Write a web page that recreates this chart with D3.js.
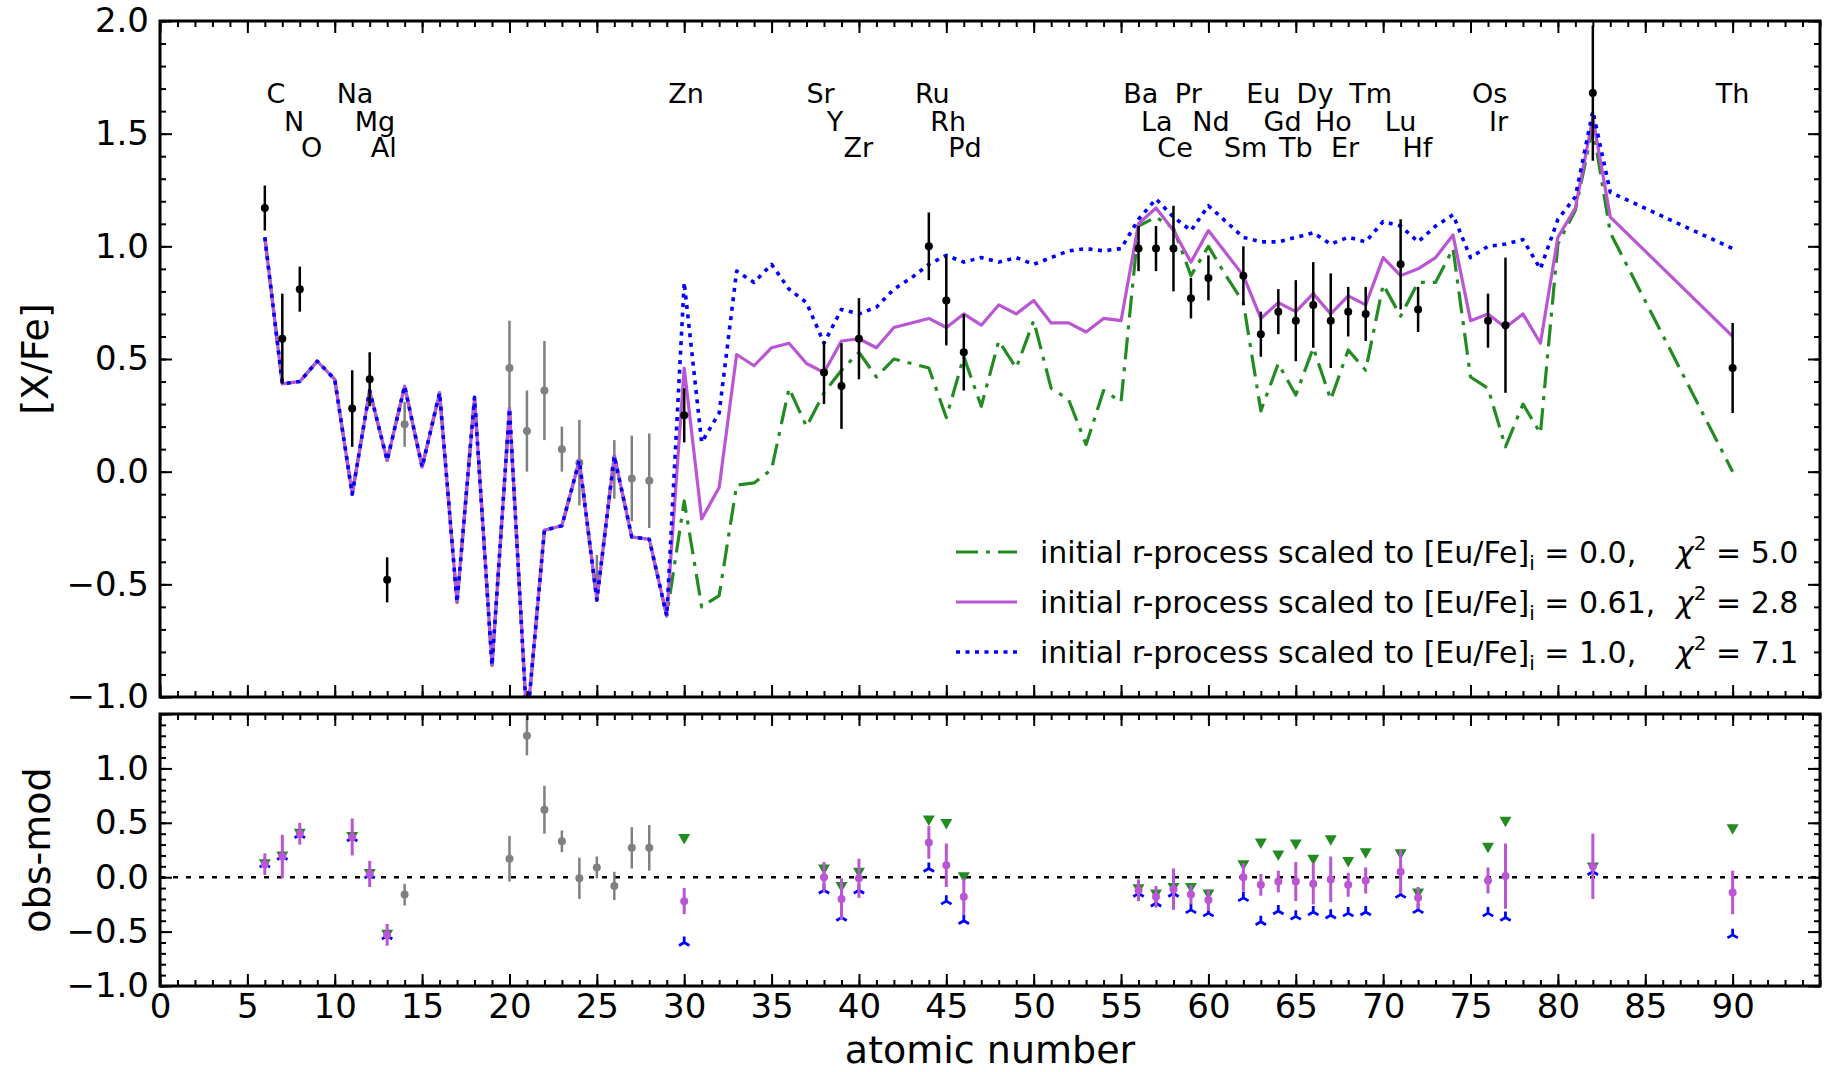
<!DOCTYPE html>
<html>
<head>
<meta charset="utf-8">
<script src="https://cdn.jsdelivr.net/npm/d3@7.9.0/dist/d3.min.js"></script>
<style>
  body { margin: 0; background: #fff; }
  svg { display: block; font-family: "DejaVu Sans", sans-serif; }
</style>
</head>
<body>
<svg id="chart" width="1829" height="1072"></svg>
<script>
// model curves: atomic numbers and [X/Fe] for the three initial r-process scalings
const modelZ = [6, 7, 8, 9, 10, 11, 12, 13, 14, 15, 16, 17, 18, 19, 20, 21, 22, 23, 24, 25, 26, 27, 28, 29,
  30, 31, 32, 33, 34, 35, 36, 37, 38, 39, 40, 41, 42, 43, 44, 45, 46, 47, 48, 49, 50, 51, 52, 53, 54, 55,
  56, 57, 58, 59, 60, 61, 62, 63, 64, 65, 66, 67, 68, 69, 70, 71, 72, 73, 74, 75, 76, 77, 78, 79, 80, 81, 82, 83, 90];

// Z = 6..29 is the same for all three models
const modelLow = [1.04, 0.39, 0.40, 0.49, 0.41, -0.10, 0.36, 0.05, 0.38, 0.02, 0.35, -0.58, 0.33, -0.86, 0.28, -1.12,
  -0.26, -0.24, 0.05, -0.57, 0.07, -0.29, -0.30, -0.64];

const greenHigh = [-0.13, -0.60, -0.55, -0.06, -0.05, 0.01, 0.37, 0.20, 0.35, 0.45, 0.53, 0.42, 0.50, 0.48, 0.46, 0.24,
  0.51, 0.29, 0.58, 0.46, 0.67, 0.37, 0.32, 0.12, 0.36, 0.31, 1.09, 1.13, 1.08, 0.87, 1.00, 0.87, 0.75, 0.27, 0.48,
  0.34, 0.55, 0.32, 0.54, 0.45, 0.83, 0.69, 0.84, 0.84, 0.99, 0.42, 0.37, 0.11, 0.30, 0.17, 1.01, 1.16, 1.53, 1.06, 0.00];

const purpleHigh = [0.46, -0.21, -0.07, 0.52, 0.47, 0.55, 0.57, 0.48, 0.44, 0.58, 0.59, 0.55, 0.64, 0.66, 0.68, 0.64,
  0.70, 0.65, 0.74, 0.70, 0.76, 0.66, 0.66, 0.62, 0.68, 0.67, 1.10, 1.17, 1.07, 0.93, 1.07, 0.97, 0.87, 0.68, 0.75,
  0.71, 0.79, 0.70, 0.78, 0.74, 0.95, 0.87, 0.90, 0.95, 1.05, 0.67, 0.70, 0.64, 0.70, 0.57, 1.04, 1.17, 1.57, 1.13, 0.60];

const blueHigh = [0.84, 0.13, 0.26, 0.89, 0.84, 0.92, 0.81, 0.75, 0.57, 0.72, 0.70, 0.73, 0.81, 0.86, 0.92, 0.96,
  0.93, 0.95, 0.93, 0.95, 0.92, 0.95, 0.98, 0.99, 0.98, 0.99, 1.12, 1.21, 1.13, 1.07, 1.18, 1.11, 1.04, 1.02, 1.02,
  1.04, 1.06, 1.01, 1.04, 1.02, 1.11, 1.09, 1.02, 1.09, 1.14, 0.95, 1.00, 1.01, 1.03, 0.90, 1.12, 1.22, 1.60, 1.24, 0.99];

// observed abundances used in the fit
const obsZ = [6, 7, 8, 11, 12, 13, 30, 38, 39, 40, 44, 45, 46, 56, 57, 58, 59, 60, 62, 63, 64, 65, 66, 67, 68, 69, 71, 72, 76, 77, 82, 90];
const obsVal = [1.17, 0.59, 0.81, 0.28, 0.41, -0.48, 0.25, 0.44, 0.38, 0.59, 1.00, 0.76, 0.53, 0.99, 0.99, 0.99, 0.77, 0.86,
  0.87, 0.61, 0.71, 0.67, 0.74, 0.67, 0.71, 0.70, 0.92, 0.72, 0.67, 0.65, 1.68, 0.46];
const obsErr = [0.10, 0.20, 0.10, 0.17, 0.12, 0.10, 0.12, 0.14, 0.19, 0.18, 0.15, 0.20, 0.17, 0.10, 0.10, 0.19, 0.09, 0.10,
  0.13, 0.10, 0.10, 0.18, 0.19, 0.21, 0.11, 0.12, 0.20, 0.10, 0.12, 0.30, 0.30, 0.20];

// residuals obs - model for each scaling
const resGreen = [0.12, 0.19, 0.40, 0.37, 0.03, -0.53, 0.35, 0.07, -0.09, 0.04, 0.52, 0.49, 0.00, -0.11, -0.16, -0.10, -0.10,
  -0.16, 0.11, 0.31, 0.20, 0.30, 0.16, 0.34, 0.14, 0.22, 0.21, -0.15, 0.27, 0.51, 0.09, 0.44];
const resPurple = [0.12, 0.19, 0.40, 0.37, 0.03, -0.53, -0.22, 0.00, -0.20, -0.01, 0.32, 0.11, -0.18, -0.12, -0.18, -0.11,
  -0.16, -0.21, 0.00, -0.07, -0.04, -0.04, -0.06, -0.02, -0.07, -0.03, 0.05, -0.19, -0.03, 0.01, 0.10, -0.14];
const resBlue = [0.12, 0.19, 0.39, 0.36, 0.02, -0.54, -0.60, -0.12, -0.37, -0.12, 0.08, -0.22, -0.40, -0.15, -0.24, -0.15,
  -0.30, -0.33, -0.19, -0.41, -0.31, -0.36, -0.32, -0.35, -0.33, -0.32, -0.16, -0.30, -0.33, -0.37, 0.05, -0.53];

// elements not used in the fit (grey)
const greyZ = [14, 20, 21, 22, 23, 24, 25, 26, 27, 28];
const greyVal = [0.21, 0.46, 0.18, 0.36, 0.10, 0.04, -0.47, 0.01, -0.03, -0.04];
const greyErr = [0.10, 0.21, 0.18, 0.22, 0.10, 0.19, 0.10, 0.13, 0.19, 0.21];
const greyRes = [-0.16, 0.17, 1.30, 0.62, 0.33, -0.01, 0.09, -0.08, 0.27, 0.27];

// element labels: name, label centre (in atomic-number units), row (0 = top)
const elemNames = ["C", "N", "O", "Na", "Mg", "Al", "Zn", "Sr", "Y", "Zr", "Ru", "Rh", "Pd", "Ba", "La", "Ce", "Pr", "Nd",
  "Sm", "Eu", "Gd", "Tb", "Dy", "Ho", "Er", "Tm", "Lu", "Hf", "Os", "Ir", "Th"];
const elemX = [6.63, 7.67, 8.68, 11.16, 12.3, 12.8, 30.1, 37.8, 38.63, 39.96, 44.2, 45.1, 46.07, 56.13, 57.04, 58.09, 58.85,
  60.14, 62.13, 63.14, 64.24, 65.0, 66.1, 67.15, 67.82, 69.29, 71.0, 71.96, 76.09, 76.6, 90.0];
const elemRow = [0, 1, 2, 0, 1, 2, 0, 0, 1, 2, 0, 1, 2, 0, 1, 2, 0, 1, 2, 0, 1, 2, 0, 1, 2, 0, 1, 2, 0, 1, 0];
const rowLevels = [1.68, 1.555, 1.44];

const legendEu = ["0.0", "0.61", "1.0"];
const legendChi = ["5.0", "2.8", "7.1"];

const xTicks = [0, 5, 10, 15, 20, 25, 30, 35, 40, 45, 50, 55, 60, 65, 70, 75, 80, 85, 90];
const yTopTicks = [-1, -0.5, 0, 0.5, 1, 1.5, 2];
const yBotTicks = [-1, -0.5, 0, 0.5, 1, 1.5];

// ---------------------------------------------------------------

const svg = d3.select("#chart");
const left = 160, right = 1820;

const x = d3.scaleLinear().domain([0, 95]).range([left, right]);
const yTop = d3.scaleLinear().domain([-1, 2]).range([697, 21]);
const yBot = d3.scaleLinear().domain([-1, 1.5]).range([986, 714]);
const fmt = d3.format(".1f");

const colors = { green: "#228b22", purple: "#ba55d3", blue: "#0000ff", grey: "#808080" };

const models = [
  { name: "green", values: modelLow.concat(greenHigh), dash: "22,8,4,8", width: 3.2 },
  { name: "purple", values: modelLow.concat(purpleHigh), dash: null, width: 3.2 },
  { name: "blue", values: modelLow.concat(blueHigh), dash: "4,5.5", width: 3.6 }
];

// clip paths for both panels
const defs = svg.append("defs");
defs.append("clipPath").attr("id", "clipTop").append("rect")
  .attr("x", left).attr("y", yTop(2)).attr("width", right - left).attr("height", yTop(-1) - yTop(2));
defs.append("clipPath").attr("id", "clipBot").append("rect")
  .attr("x", left).attr("y", yBot(1.5)).attr("width", right - left).attr("height", yBot(-1) - yBot(1.5));

function drawAxes(yScale, majors, labelX, yLabelFmt) {
  const y0 = yScale.range()[0], y1 = yScale.range()[1];
  const minorX = d3.range(0, 96, 1);
  const minorY = d3.range(Math.round(yScale.domain()[0] * 10), Math.round(yScale.domain()[1] * 10) + 1).map(d => d / 10);

  const axes = [
    [d3.axisBottom(x).tickValues(xTicks).tickSize(-12).tickPadding(8)
      .tickFormat(labelX ? d3.format("d") : ""), `translate(0,${y0})`],
    [d3.axisBottom(x).tickValues(minorX).tickSize(-6).tickFormat(""), `translate(0,${y0})`],
    [d3.axisTop(x).tickValues(xTicks).tickSize(-12).tickFormat(""), `translate(0,${y1})`],
    [d3.axisTop(x).tickValues(minorX).tickSize(-6).tickFormat(""), `translate(0,${y1})`],
    [d3.axisLeft(yScale).tickValues(majors).tickSize(-12).tickPadding(11).tickFormat(yLabelFmt), `translate(${left},0)`],
    [d3.axisLeft(yScale).tickValues(minorY).tickSize(-6).tickFormat(""), `translate(${left},0)`],
    [d3.axisRight(yScale).tickValues(majors).tickSize(-12).tickFormat(""), `translate(${right},0)`],
    [d3.axisRight(yScale).tickValues(minorY).tickSize(-6).tickFormat(""), `translate(${right},0)`]
  ];

  axes.forEach(([axis, tr]) => {
    const g = svg.append("g").attr("transform", tr).call(axis);
    g.select(".domain").remove();
    g.selectAll("line").attr("stroke", "#000").attr("stroke-width", 2);
    g.selectAll("text").attr("font-size", 34).attr("fill", "#000")
      .attr("font-family", "DejaVu Sans, sans-serif");
  });

  svg.append("rect")
    .attr("x", left).attr("y", y1).attr("width", right - left).attr("height", y0 - y1)
    .attr("fill", "none").attr("stroke", "#000").attr("stroke-width", 3);
}

function errorPoints(g, yScale, zs, vals, errs, color, r, lw) {
  const pts = zs.map((z, i) => ({ z, v: vals[i], e: errs[i] }));
  g.append("g").selectAll("line").data(pts).enter().append("line")
    .attr("x1", d => x(d.z)).attr("x2", d => x(d.z))
    .attr("y1", d => yScale(d.v - d.e)).attr("y2", d => yScale(d.v + d.e))
    .attr("stroke", color).attr("stroke-width", lw);
  g.append("g").selectAll("circle").data(pts).enter().append("circle")
    .attr("cx", d => x(d.z)).attr("cy", d => yScale(d.v)).attr("r", r)
    .attr("fill", color);
}

// ---------------- top panel ----------------
const topG = svg.append("g").attr("clip-path", "url(#clipTop)");

errorPoints(topG, yTop, greyZ, greyVal, greyErr, colors.grey, 4, 2.5);

const line = d3.line().x(d => x(d.z)).y(d => yTop(d.v));
models.forEach(m => {
  topG.append("path")
    .datum(modelZ.map((z, i) => ({ z, v: m.values[i] })))
    .attr("d", line)
    .attr("fill", "none")
    .attr("stroke", colors[m.name])
    .attr("stroke-width", m.width)
    .attr("stroke-dasharray", m.dash)
    .attr("stroke-linejoin", "round");
});

errorPoints(topG, yTop, obsZ, obsVal, obsErr, "#000", 4, 2.5);

// element names
svg.append("g").selectAll("text")
  .data(elemNames.map((n, i) => ({ n, z: elemX[i], row: elemRow[i] })))
  .enter().append("text")
  .attr("x", d => x(d.z))
  .attr("y", d => yTop(rowLevels[d.row]))
  .attr("text-anchor", "middle")
  .attr("dominant-baseline", "central")
  .attr("font-size", 27)
  .text(d => d.n);

// legend
const legend = svg.append("g");
models.forEach((m, i) => {
  const ly = 552 + i * 50;
  legend.append("line")
    .attr("x1", 956).attr("x2", 1017).attr("y1", ly).attr("y2", ly)
    .attr("stroke", colors[m.name]).attr("stroke-width", m.width)
    .attr("stroke-dasharray", m.dash);
  const t = legend.append("text").attr("x", 1040).attr("y", ly + 11).attr("font-size", 30);
  t.append("tspan").text("initial r-process scaled to [Eu/Fe]");
  t.append("tspan").attr("dy", 7).attr("font-size", 20).text("i");
  t.append("tspan").attr("dy", -7).text(` = ${legendEu[i]},`);
  const c = legend.append("text").attr("x", 1676).attr("y", ly + 11).attr("font-size", 30);
  c.append("tspan").attr("font-style", "italic").text("χ");
  c.append("tspan").attr("dy", -13).attr("font-size", 20).text("2");
  c.append("tspan").attr("dy", 13).text(` = ${legendChi[i]}`);
});

drawAxes(yTop, yTopTicks, false, fmt);

// ---------------- bottom panel ----------------
const botG = svg.append("g").attr("clip-path", "url(#clipBot)");

botG.append("line")
  .attr("x1", left).attr("x2", right).attr("y1", yBot(0)).attr("y2", yBot(0))
  .attr("stroke", "#000").attr("stroke-width", 2.5).attr("stroke-dasharray", "5,8");

errorPoints(botG, yBot, greyZ, greyRes, greyErr, colors.grey, 4, 2.5);

// green: triangle down
botG.append("g").selectAll("path").data(obsZ.map((z, i) => ({ z, v: resGreen[i] })))
  .enter().append("path")
  .attr("transform", d => `translate(${x(d.z)},${yBot(d.v)})`)
  .attr("d", "M-6,-5L6,-5L0,5.5Z")
  .attr("fill", colors.green);

// blue: tri_up
botG.append("g").selectAll("path").data(obsZ.map((z, i) => ({ z, v: resBlue[i] })))
  .enter().append("path")
  .attr("transform", d => `translate(${x(d.z)},${yBot(d.v)})`)
  .attr("d", "M0,0L0,-6M0,0L-5.2,3M0,0L5.2,3")
  .attr("fill", "none").attr("stroke", colors.blue).attr("stroke-width", 2.8);

errorPoints(botG, yBot, obsZ, resPurple, obsErr, colors.purple, 4, 3);

drawAxes(yBot, yBotTicks, true, d => (d > 1.2 ? "" : fmt(d)));

// axis titles
svg.append("text")
  .attr("transform", `translate(35,${(yTop(2) + yTop(-1)) / 2}) rotate(-90)`)
  .attr("text-anchor", "middle").attr("dominant-baseline", "central")
  .attr("font-size", 38).text("[X/Fe]");
svg.append("text")
  .attr("transform", `translate(37,${(yBot(1.5) + yBot(-1)) / 2}) rotate(-90)`)
  .attr("text-anchor", "middle").attr("dominant-baseline", "central")
  .attr("font-size", 38).text("obs-mod");
svg.append("text")
  .attr("x", (left + right) / 2).attr("y", 1063)
  .attr("text-anchor", "middle")
  .attr("font-size", 38).text("atomic number");
</script>
</body>
</html>
